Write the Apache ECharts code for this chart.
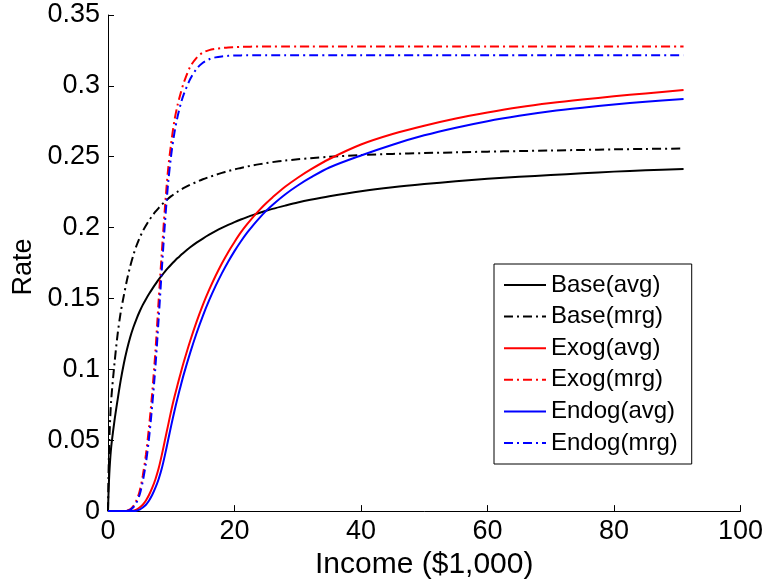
<!DOCTYPE html>
<html>
<head>
<meta charset="utf-8">
<script src="https://cdn.jsdelivr.net/npm/echarts@6/dist/echarts.min.js"></script>
<style>html,body{margin:0;padding:0;background:#fff}#c{width:766px;height:585px}</style>
</head>
<body>
<div id="c"></div>
<script>
const income = [0, 0.1, 0.25, 0.5, 1, 1.5, 2, 2.5, 3, 3.5,
  4, 4.5, 5, 5.5, 6, 6.5, 7, 7.5, 8, 8.5,
  9, 9.5, 10, 10.5, 11, 11.5, 12, 13, 14, 15,
  16, 17, 18, 19, 20, 21, 22, 23, 24, 25,
  26, 28, 30, 32, 35, 40, 45, 50, 55, 60,
  65, 70, 75, 80, 85, 91];
const baseAvg = [0, 0.015, 0.03, 0.045, 0.063, 0.078, 0.092, 0.104, 0.114, 0.1225,
  0.1295, 0.1355, 0.1408, 0.1455, 0.1495, 0.1533, 0.1568, 0.1601, 0.1633, 0.1662,
  0.1690, 0.1716, 0.1740, 0.1763, 0.1785, 0.1805, 0.1825, 0.1861, 0.1894, 0.1923,
  0.1950, 0.1975, 0.1998, 0.2019, 0.2039, 0.2057, 0.2074, 0.2090, 0.2105, 0.2119,
  0.2132, 0.2155, 0.2177, 0.2196, 0.2221, 0.2256, 0.2284, 0.2307, 0.2327, 0.2344,
  0.2358, 0.2371, 0.2383, 0.2395, 0.2405, 0.2414];
const baseMrg = [0, 0.03, 0.055, 0.078, 0.103, 0.124, 0.140, 0.152, 0.163, 0.1725,
  0.1805, 0.1872, 0.1928, 0.1975, 0.2015, 0.2051, 0.2083, 0.2112, 0.2138, 0.2162,
  0.2184, 0.2204, 0.2222, 0.2238, 0.2253, 0.2267, 0.2280, 0.2303, 0.2322, 0.2341,
  0.2357, 0.2372, 0.2386, 0.2399, 0.2411, 0.2421, 0.2431, 0.2440, 0.2448, 0.2455,
  0.2462, 0.2473, 0.2482, 0.2490, 0.2500, 0.2512, 0.2520, 0.2526, 0.2531, 0.2536,
  0.2540, 0.2544, 0.2548, 0.2552, 0.2555, 0.2558];
const exogAvg = [0, 0, 0, 0, 0, 0, 0, 0, 0, 0,
  0.0003, 0.001, 0.0025, 0.0045, 0.0075, 0.0115, 0.0165, 0.0225, 0.030, 0.0395,
  0.050, 0.0605, 0.071, 0.0805, 0.0891, 0.0975, 0.1055, 0.1202, 0.1335, 0.1455,
  0.1562, 0.1659, 0.1747, 0.1827, 0.1899, 0.1966, 0.2024, 0.2078, 0.2127, 0.2172,
  0.2213, 0.2288, 0.2352, 0.2409, 0.2484, 0.2586, 0.2660, 0.2719, 0.2770, 0.2812,
  0.2849, 0.2879, 0.2904, 0.2926, 0.2947, 0.2971];
const exogMrg = [0, 0, 0, 0, 0, 0, 0, 0, 0.0003, 0.0012,
  0.0035, 0.0075, 0.014, 0.025, 0.040, 0.060, 0.084, 0.113, 0.148, 0.182,
  0.214, 0.241, 0.260, 0.2755, 0.2865, 0.2950, 0.3025, 0.3135, 0.3198, 0.3235,
  0.3252, 0.3261, 0.3267, 0.3271, 0.3273, 0.3275, 0.3276, 0.3277, 0.3277, 0.3277,
  0.3277, 0.3277, 0.3277, 0.3277, 0.3277, 0.3277, 0.3277, 0.3277, 0.3277, 0.3277,
  0.3277, 0.3277, 0.3277, 0.3277, 0.3277, 0.3277];
const endogAvg = [0, 0, 0, 0, 0, 0, 0, 0, 0, 0,
  0, 0.0003, 0.001, 0.0025, 0.0045, 0.0075, 0.0115, 0.0165, 0.0225, 0.030,
  0.0395, 0.050, 0.0605, 0.0705, 0.0798, 0.0885, 0.0968, 0.1118, 0.1255, 0.1378,
  0.1488, 0.1587, 0.1677, 0.1759, 0.1834, 0.1902, 0.1964, 0.2020, 0.2071, 0.2118,
  0.2160, 0.2234, 0.2297, 0.2352, 0.2424, 0.2509, 0.2585, 0.2651, 0.2705, 0.2751,
  0.2789, 0.2821, 0.2846, 0.2868, 0.2888, 0.2908];
const endogMrg = [0, 0, 0, 0, 0, 0, 0, 0, 0.0002, 0.0009,
  0.0027, 0.006, 0.0115, 0.021, 0.034, 0.052, 0.075, 0.102, 0.135, 0.170,
  0.203, 0.231, 0.2515, 0.2668, 0.2783, 0.2873, 0.2943, 0.3048, 0.3120, 0.3163,
  0.3188, 0.3201, 0.3208, 0.3212, 0.3214, 0.3215, 0.3216, 0.3216, 0.3216, 0.3216,
  0.3216, 0.3216, 0.3216, 0.3216, 0.3216, 0.3216, 0.3216, 0.3216, 0.3216, 0.3216,
  0.3216, 0.3216, 0.3216, 0.3216, 0.3216, 0.3216];
const seriesNames = ['Base(avg)', 'Base(mrg)', 'Exog(avg)', 'Exog(mrg)', 'Endog(avg)', 'Endog(mrg)'];
const xTicks = [0, 20, 40, 60, 80, 100];
const yTicks = [0, 0.05, 0.1, 0.15, 0.2, 0.25, 0.3, 0.35];

const FONT = 'Liberation Sans, Arial, Helvetica, sans-serif';
const DASHDOT = [9, 4, 2, 4];
const values = [baseAvg, baseMrg, exogAvg, exogMrg, endogAvg, endogMrg];
const colors = ['#000000', '#000000', '#ff0000', '#ff0000', '#0000ff', '#0000ff'];
const types = ['solid', DASHDOT, 'solid', DASHDOT, 'solid', DASHDOT];

const chart = echarts.init(document.getElementById('c'), null, {renderer: 'canvas'});
chart.setOption({
  animation: false,
  backgroundColor: '#ffffff',
  grid: {left: 108, right: 25, top: 15, bottom: 70, containLabel: false},
  legend: {
    orient: 'vertical', left: 494, top: 264,
    itemWidth: 42, itemHeight: 14, itemGap: 7.6,
    padding: [9, 14, 9, 9],
    borderColor: '#000', borderWidth: 1, backgroundColor: '#fff',
    itemStyle: {opacity: 0},
    textStyle: {fontSize: 24, lineHeight: 23, fontFamily: FONT, color: '#000'},
    data: seriesNames
  },
  xAxis: {
    type: 'value', min: xTicks[0], max: xTicks[xTicks.length - 1], interval: 20,
    name: 'Income ($1,000)', nameLocation: 'middle', nameGap: 38,
    nameTextStyle: {fontSize: 30, fontFamily: FONT, color: '#000'},
    axisLine: {show: true, lineStyle: {color: '#000', width: 1}},
    axisTick: {show: true, inside: true, length: 6, lineStyle: {color: '#000'}},
    axisLabel: {fontSize: 27, fontFamily: FONT, color: '#000', margin: 7},
    splitLine: {show: false}
  },
  yAxis: {
    type: 'value', min: yTicks[0], max: yTicks[yTicks.length - 1], interval: 0.05,
    name: 'Rate', nameLocation: 'middle', nameGap: 68,
    nameTextStyle: {fontSize: 27, fontFamily: FONT, color: '#000', padding: [0, 8, 0, 0]},
    axisLine: {show: true, lineStyle: {color: '#000', width: 1}},
    axisTick: {show: true, inside: true, length: 6, lineStyle: {color: '#000'}},
    axisLabel: {fontSize: 27, fontFamily: FONT, color: '#000', margin: 8,
      formatter: v => String(Math.round(v * 100) / 100)},
    splitLine: {show: false}
  },
  series: seriesNames.map((name, i) => ({
    name: name,
    type: 'line',
    symbol: 'none',
    showSymbol: false,
    smooth: 0.3,
    clip: true,
    data: income.map((x, k) => [x, values[i][k]]),
    lineStyle: {color: colors[i], width: 2, type: types[i]},
    itemStyle: {color: colors[i]}
  }))
});
</script>
</body>
</html>
